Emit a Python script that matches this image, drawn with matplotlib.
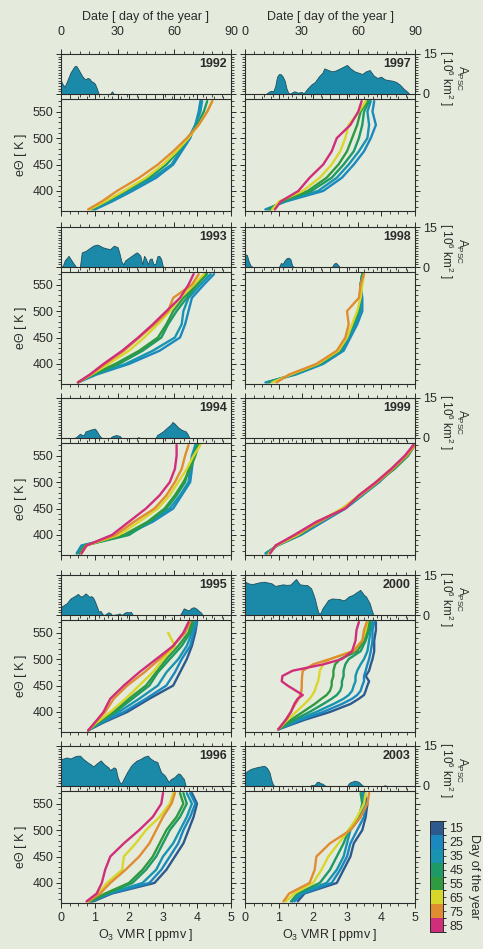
import numpy as np
import matplotlib
matplotlib.use('Agg')
import matplotlib.pyplot as plt
from matplotlib.colors import ListedColormap, BoundaryNorm
from matplotlib.ticker import MultipleLocator, FixedLocator
import matplotlib.colorbar as mcolorbar

plt.rcParams['font.family'] = ['Liberation Sans', 'DejaVu Sans']
plt.rcParams['font.size'] = 9
plt.rcParams['mathtext.default'] = 'regular'

BG = '#e5ebdc'
INK = '#2b2b2b'

# ---- colour scale (day of the year) ----
day_ticks = [15, 25, 35, 45, 55, 65, 75, 85]
day_colors = ['#2c5a8e', '#1b88bf', '#1894b0', '#1d9a66', '#2f9a40',
              '#d8d62a', '#e08c30', '#d02e7a']

# ---- PSC area (10^6 km^2) vs day ----
days_1992 = [0, 1, 2, 3, 5, 7, 8, 9, 11, 12, 13, 14, 15, 16, 17, 18, 19, 20, 26, 27, 28, 90]
apsc_1992 = [5.0, 3.5, 2.8, 4.5, 8.0, 10.3, 10.6, 9.5, 7.0, 6.0, 5.5, 6.0, 5.8, 4.8, 4.5, 3.8, 2.0, 0.0, 0.0, 1.0, 0.0, 0.0]

days_1997 = [0, 11, 13, 14, 15, 16, 17, 18, 19, 20, 21, 22, 23, 24, 26, 27, 28, 30, 31, 33, 35, 37, 39, 41,
             42, 44, 46, 48, 50, 52, 54, 56, 58, 60, 62, 64, 66, 68, 70, 72, 74, 76, 78, 80, 82, 84, 86, 87, 90]
apsc_1997 = [0, 0, 1.0, 1.2, 1.0, 3.0, 6.5, 7.5, 7.4, 6.5, 5.0, 2.0, 0.3, 0.2, 1.0, 0.8, 0.5, 0.8, 0.2, 2.0, 3.5, 4.5, 6.5, 8.0,
             9.6, 9.0, 8.5, 8.8, 9.5, 10.2, 10.9, 9.5, 8.5, 8.0, 7.5, 8.5, 9.0, 7.0, 6.0, 6.5, 5.5, 5.2, 5.0, 4.5, 3.5, 2.0, 0.8, 0.0, 0.0]

days_1993 = [0, 1, 2, 4, 6, 8, 10, 11, 13, 15, 17, 19, 20, 22, 24, 26, 28, 30, 31, 32, 33, 34, 36, 38, 40,
             41, 42, 43, 44, 45, 46, 47, 48, 49, 50, 51, 52, 53, 54, 90]
apsc_1993 = [0, 0.5, 2.5, 4.2, 2.0, 0, 0, 5.5, 6.0, 7.0, 8.0, 8.4, 8.2, 7.4, 7.0, 6.7, 8.0, 7.4, 5.0, 2.0, 1.0, 2.5, 3.5, 4.5, 5.5,
             5.0, 4.2, 1.0, 4.2, 3.0, 1.0, 3.0, 3.2, 1.0, 1.2, 4.0, 4.2, 3.0, 0, 0]

days_1998 = [0, 1, 2, 3, 4, 18, 19, 20, 21, 22, 23, 24, 25, 26, 46, 47, 48, 49, 50, 90]
apsc_1998 = [4.8, 4.5, 2.0, 0.5, 0, 0, 1.5, 1.2, 2.5, 3.3, 3.5, 3.0, 0.5, 0, 0, 1.2, 1.6, 1.0, 0, 0]

days_1994 = [0, 7, 8, 10, 11, 12, 13, 14, 16, 18, 19, 20, 21, 22, 26, 27, 29, 31, 32, 40, 41, 42,
             50, 51, 52, 54, 56, 58, 59, 60, 62, 63, 64, 66, 67, 68, 90]
apsc_1994 = [0, 0, 0.3, 1.6, 1.2, 1.0, 2.5, 2.7, 3.2, 3.5, 2.5, 1.3, 0.3, 0, 0, 0.6, 1.1, 0.8, 0, 0, 0.3, 0,
             0, 1.2, 1.6, 2.5, 3.8, 5.0, 6.0, 5.5, 4.0, 3.5, 3.0, 2.5, 1.5, 0, 0]

days_1999 = [0, 90]
apsc_1999 = [0, 0]

days_1995 = [0, 1, 3, 5, 7, 9, 10, 11, 12, 13, 14, 15, 16, 17, 18, 19, 20, 21, 22, 23, 25, 26, 27, 30, 31, 32,
             34, 35, 36, 37, 38, 63, 64, 65, 66, 67, 68, 69, 70, 71, 72, 73, 74, 75, 90]
apsc_1995 = [3.0, 3.5, 4.4, 6.2, 7.0, 7.9, 7.2, 6.9, 7.5, 8.1, 7.5, 6.8, 7.1, 6.5, 5.0, 3.1, 1.25, 1.5, 0.3, 0, 1.0, 0.8, 0, 0.3, 0.6, 0,
             1.0, 1.1, 1.0, 1.2, 0, 0, 1.2, 2.5, 2.2, 1.8, 1.9, 2.6, 2.9, 2.7, 2.2, 1.5, 1.0, 0, 0]

days_2000 = [0, 2, 4, 6, 8, 10, 12, 14, 16, 18, 20, 22, 24, 26, 27, 28, 29, 31, 33, 35, 36, 37, 38, 39, 40,
             41, 42, 44, 46, 48, 50, 52, 53, 55, 57, 59, 61, 62, 63, 64, 66, 67, 68, 90]
apsc_2000 = [12.5, 11.8, 11.6, 12.0, 12.3, 12.5, 12.2, 11.9, 10.9, 11.2, 11.5, 11.3, 11.4, 12.8, 13.5, 12.5, 11.5, 11.3, 11.2, 10.0,
             8.1, 6.0, 3.0, 0.6, 0.8, 2.5, 3.5, 5.6, 6.2, 6.1, 6.0, 5.5, 5.8, 7.0, 7.5, 8.5, 9.4, 8.5, 7.5, 7.0, 4.4, 2.0, 0, 0]

days_1996 = [0, 2, 3, 5, 7, 8, 10, 12, 14, 16, 17, 19, 21, 23, 25, 26, 28, 29, 30, 31, 32, 33, 35, 37, 38, 40,
             42, 44, 46, 47, 49, 51, 52, 53, 55, 57, 58, 60, 62, 63, 64, 65, 66, 90]
apsc_1996 = [10.0, 10.5, 10.7, 10.3, 11.0, 11.3, 11.4, 10.0, 8.9, 8.0, 7.3, 8.5, 9.6, 8.1, 7.0, 6.0, 7.0, 6.5, 3.3, 1.5, 0.9, 2.5,
             5.2, 7.5, 8.3, 9.5, 10.1, 11.0, 11.4, 10.5, 9.5, 9.0, 7.0, 5.2, 3.9, 1.5, 2.5, 3.3, 4.7, 4.5, 3.5, 2.7, 0, 0]

days_2003 = [0, 1, 3, 5, 6, 8, 10, 11, 12, 13, 14, 15, 16, 34, 35, 37, 38, 39, 40, 41, 42, 43,
             54, 55, 56, 57, 58, 59, 60, 61, 62, 63, 73, 74, 75, 90]
apsc_2003 = [4.6, 5.5, 6.4, 6.8, 7.0, 7.3, 7.6, 7.2, 6.4, 5.0, 2.1, 0.3, 0, 0, 0.3, 0.5, 1.5, 1.6, 1.0, 0.9, 0.3, 0,
             0, 1.0, 1.5, 1.7, 2.0, 1.8, 1.6, 1.0, 0.3, 0, 0, 0.3, 0, 0]

# ---- ozone profiles: O3 VMR (ppmv) at potential temperature levels (K) ----
theta_std = [365, 380, 400, 425, 450, 475, 500, 525, 550, 570]

prof_1992 = {
    25: [1.00, 1.50, 2.10, 2.80, 3.30, 3.55, 3.80, 3.95, 4.05, 4.10],
    35: [0.95, 1.45, 2.00, 2.70, 3.25, 3.50, 3.75, 3.95, 4.10, 4.15],
    45: [0.90, 1.35, 1.90, 2.60, 3.10, 3.45, 3.75, 4.00, 4.20, 4.30],
    65: [0.85, 1.30, 1.85, 2.50, 3.00, 3.40, 3.75, 4.05, 4.30, 4.45],
    75: [0.80, 1.20, 1.65, 2.30, 2.85, 3.30, 3.70, 4.05, 4.30, 4.45],
}
prof_1997 = {
    25: [0.60, 1.20, 2.30, 2.85, 3.20, 3.50, 3.70, 3.85, 3.75, 3.80],
    35: [0.65, 1.15, 2.15, 2.70, 3.05, 3.35, 3.60, 3.65, 3.60, 3.70],
    45: [0.70, 1.10, 1.95, 2.55, 2.90, 3.20, 3.35, 3.45, 3.50, 3.65],
    55: [0.75, 1.05, 1.85, 2.40, 2.75, 3.00, 3.15, 3.30, 3.40, 3.60],
    65: [0.80, 1.00, 1.70, 2.20, 2.55, 2.80, 2.95, 3.05, 3.35, 3.55],
    85: [0.88, 1.05, 1.57, 1.90, 2.30, 2.55, 2.70, 3.10, 3.33, 3.43],
}
prof_1993 = {
    25: [0.50, 1.05, 2.00, 2.90, 3.50, 3.65, 3.75, 3.85, 4.20, 4.50],
    35: [0.50, 1.00, 1.90, 2.70, 3.35, 3.55, 3.60, 3.75, 4.10, 4.40],
    45: [0.50, 0.95, 1.70, 2.40, 2.95, 3.15, 3.40, 3.70, 4.00, 4.30],
    55: [0.50, 0.92, 1.60, 2.30, 2.85, 3.10, 3.30, 3.60, 4.00, 4.25],
    65: [0.50, 0.90, 1.40, 2.00, 2.45, 2.85, 3.20, 3.50, 3.90, 4.20],
    75: [0.50, 0.88, 1.30, 1.85, 2.30, 2.75, 3.15, 3.30, 3.85, 4.05],
    85: [0.50, 0.85, 1.25, 1.80, 2.27, 2.70, 3.10, 3.50, 3.75, 3.90],
}
prof_1998 = {
    25: [0.60, 1.50, 2.30, 2.90, 3.10, 3.30, 3.45, 3.45, 3.40, 3.45],
    35: [0.65, 1.45, 2.25, 2.85, 3.05, 3.25, 3.40, 3.40, 3.40, 3.45],
    45: [0.70, 1.40, 2.20, 2.80, 3.00, 3.20, 3.35, 3.40, 3.40, 3.45],
    65: [0.80, 1.35, 2.15, 2.75, 3.00, 3.15, 3.30, 3.40, 3.45, 3.50],
    75: [0.93, 1.30, 2.10, 2.70, 2.95, 3.05, 3.00, 3.35, 3.40, 3.50],
}
prof_1994 = {
    25: [0.46, 0.60, 1.90, 2.70, 3.30, 3.55, 3.80, 3.85, 3.90, 3.95],
    35: [0.50, 0.65, 1.95, 2.65, 3.20, 3.50, 3.75, 3.80, 3.85, 3.95],
    45: [0.55, 0.70, 2.00, 2.60, 3.10, 3.40, 3.65, 3.75, 3.90, 4.00],
    55: [0.55, 0.70, 1.85, 2.55, 3.05, 3.35, 3.60, 3.80, 3.95, 4.05],
    65: [0.60, 0.75, 1.70, 2.30, 2.85, 3.20, 3.45, 3.70, 3.90, 4.10],
    75: [0.60, 0.75, 1.60, 2.15, 2.75, 3.10, 3.35, 3.55, 3.65, 3.75],
    85: [0.60, 0.75, 1.50, 2.00, 2.50, 2.90, 3.20, 3.35, 3.40, 3.40],
}
prof_1999 = {
    25: [0.60, 0.95, 1.65, 2.30, 2.95, 3.45, 3.95, 4.35, 4.75, 4.95],
    35: [0.62, 0.95, 1.60, 2.25, 2.95, 3.45, 3.90, 4.35, 4.75, 5.00],
    45: [0.65, 0.95, 1.60, 2.20, 2.90, 3.40, 3.90, 4.40, 4.80, 5.00],
    65: [0.70, 0.93, 1.55, 2.15, 2.85, 3.35, 3.85, 4.30, 4.75, 5.00],
    75: [0.72, 0.90, 1.50, 2.20, 2.90, 3.40, 3.90, 4.35, 4.75, 5.00],
    85: [0.74, 0.90, 1.45, 2.10, 2.95, 3.35, 3.85, 4.30, 4.70, 4.95],
}
prof_1995 = {
    15: [0.80, 1.25, 1.95, 2.60, 3.30, 3.50, 3.70, 3.85, 3.95, 4.00],
    25: [0.80, 1.20, 1.85, 2.50, 3.10, 3.35, 3.55, 3.80, 3.90, 4.00],
    35: [0.80, 1.15, 1.70, 2.30, 2.85, 3.10, 3.45, 3.70, 3.85, 3.95],
    45: [0.80, 1.10, 1.60, 2.10, 2.60, 2.85, 3.20, 3.55, 3.80, 3.90],
    55: [0.80, 1.10, 1.55, 2.00, 2.50, 2.80, 3.10, 3.45, 3.75, 3.85],
    65: [0.80, 1.05, 1.45, 1.90, 2.30, 2.70, 3.00, 3.35, 3.15, np.nan],
    75: [0.80, 1.00, 1.30, 1.55, 1.95, 2.45, 2.90, 3.30, 3.65, 3.80],
    85: [0.80, 1.00, 1.25, 1.45, 1.85, 2.30, 2.80, 3.30, 3.60, 3.75],
}
theta_2000 = [367, 385, 400, 415, 425, 432, 440, 450, 458, 468, 478, 490, 500, 515, 535, 555, 570]
prof_2000 = {
    15: [0.98, 1.75, 2.50, 3.10, 3.35, 3.50, 3.55, 3.60, 3.65, 3.55, 3.65, 3.70, 3.75, 3.80, 3.80, 3.85, 3.85],
    25: [0.98, 1.65, 2.30, 2.85, 3.15, 3.30, 3.40, 3.45, 3.50, 3.50, 3.55, 3.60, 3.65, 3.70, 3.75, 3.75, 3.80],
    35: [0.98, 1.55, 2.10, 2.60, 2.90, 3.05, 3.15, 3.20, 3.25, 3.25, 3.30, 3.40, 3.50, 3.60, 3.65, 3.70, 3.75],
    45: [0.98, 1.45, 1.90, 2.30, 2.55, 2.70, 2.80, 2.85, 2.85, 2.90, 2.90, 2.95, 3.05, 3.40, 3.55, 3.65, 3.70],
    55: [0.98, 1.35, 1.70, 2.05, 2.25, 2.40, 2.50, 2.55, 2.55, 2.60, 2.60, 2.65, 2.80, 3.30, 3.50, 3.60, 3.65],
    65: [0.98, 1.25, 1.50, 1.75, 1.90, 1.98, 2.05, 2.10, 2.15, 2.18, 2.20, 2.30, 2.50, 3.15, 3.45, 3.55, 3.60],
    75: [0.98, 1.20, 1.35, 1.48, 1.58, 1.62, 1.66, 1.67, 1.67, 1.68, 1.70, 2.00, 2.50, 3.20, 3.45, 3.50, 3.58],
    85: [0.98, 1.20, 1.35, 1.45, 1.55, 1.70, 1.50, 1.25, 1.08, 1.10, 1.40, 2.30, 2.85, 3.15, 3.25, 3.28, 3.35],
}
prof_1996 = {
    15: [0.95, 1.50, 2.75, 3.10, 3.35, 3.60, 3.75, 3.90, 4.00, 3.85],
    25: [0.90, 1.45, 2.60, 2.95, 3.20, 3.45, 3.60, 3.80, 3.95, 3.80],
    35: [0.90, 1.40, 2.40, 2.80, 3.00, 3.30, 3.50, 3.70, 3.85, 3.70],
    45: [0.85, 1.35, 2.10, 2.50, 2.80, 3.00, 3.20, 3.50, 3.70, 3.60],
    55: [0.85, 1.30, 2.00, 2.40, 2.70, 2.90, 3.10, 3.40, 3.60, 3.50],
    65: [0.80, 1.10, 1.35, 1.80, 1.85, 2.20, 2.50, 2.90, 3.20, 3.30],
    75: [0.80, 1.15, 1.45, 1.90, 2.30, 2.60, 2.80, 3.00, 3.25, 3.35],
    85: [0.75, 1.05, 1.20, 1.30, 1.45, 1.85, 2.30, 2.70, 2.95, 3.00],
}
prof_2003 = {
    15: [1.55, 1.75, 2.70, 2.90, 3.10, 3.20, 3.45, 3.55, 3.60, 3.50],
    25: [1.45, 1.70, 2.55, 2.80, 3.00, 3.10, 3.30, 3.50, 3.55, 3.50],
    35: [1.40, 1.60, 2.40, 2.70, 2.90, 3.00, 3.10, 3.40, 3.50, 3.45],
    45: [1.35, 1.55, 2.20, 2.50, 2.70, 2.90, 3.05, 3.35, 3.45, 3.40],
    65: [1.20, 1.45, 2.00, 2.25, 2.45, 2.75, 3.05, 3.30, 3.50, 3.55],
    75: [1.13, 1.30, 1.90, 2.05, 2.10, 2.50, 3.10, 3.40, 3.60, 3.65],
}

left_years = [1992, 1993, 1994, 1995, 1996]
right_years = [1997, 1998, 1999, 2000, 2003]
apsc = {1992: (days_1992, apsc_1992), 1993: (days_1993, apsc_1993), 1994: (days_1994, apsc_1994),
        1995: (days_1995, apsc_1995), 1996: (days_1996, apsc_1996), 1997: (days_1997, apsc_1997),
        1998: (days_1998, apsc_1998), 1999: (days_1999, apsc_1999), 2000: (days_2000, apsc_2000),
        2003: (days_2003, apsc_2003)}
profiles = {1992: prof_1992, 1993: prof_1993, 1994: prof_1994, 1995: prof_1995, 1996: prof_1996,
            1997: prof_1997, 1998: prof_1998, 1999: prof_1999, 2000: prof_2000, 2003: prof_2003}
thetas = {y: theta_std for y in profiles}
thetas[2000] = theta_2000

# ---- layout in pixels ----
W, H = 483, 949
fig = plt.figure(figsize=(W / 100, H / 100), dpi=100, facecolor=BG)

col_x = [61, 245]
ax_w = 170
area_top = [54, 227, 398, 575, 746]
area_h = 40
line_gap = 45
line_h = 112

color_of = dict(zip(day_ticks, day_colors))


def px_axes(x, top, w, h):
    return fig.add_axes([x / W, 1 - (top + h) / H, w / W, h / H])


def style(ax):
    ax.set_facecolor('none')
    for s in ax.spines.values():
        s.set_color(INK)
        s.set_linewidth(0.8)
    ax.tick_params(which='both', direction='out', colors=INK, top=True, right=True,
                   labelbottom=False, labelleft=False, labelsize=9)
    ax.tick_params(which='major', length=3.5, width=0.7)
    ax.tick_params(which='minor', length=2, width=0.6)


for col, years in enumerate([left_years, right_years]):
    for row, yr in enumerate(years):
        # PSC area panel
        ax = px_axes(col_x[col], area_top[row], ax_w, area_h)
        style(ax)
        d, a = apsc[yr]
        ax.fill_between(d, a, 0, color='#1a8aa8', edgecolor='#1d4f60', linewidth=0.6)
        ax.set_xlim(0, 90)
        ax.set_ylim(0, 15)
        ax.xaxis.set_major_locator(MultipleLocator(30))
        ax.xaxis.set_minor_locator(MultipleLocator(5))
        ax.yaxis.set_major_locator(FixedLocator([0, 15]))
        ax.yaxis.set_minor_locator(MultipleLocator(1))
        ax.text(0.975, 0.9, str(yr), transform=ax.transAxes, ha='right', va='top',
                fontweight='bold', fontsize=9, color=INK)
        if row == 0:
            ax.tick_params(axis='x', labeltop=True, pad=8)
            ax.set_xlabel('Date [ day of the year ]', fontsize=9, color=INK, labelpad=4)
            ax.xaxis.set_label_position('top')
        if col == 1:
            ax.tick_params(axis='y', labelright=True, pad=2)
            fig.text(453 / W, 1 - (area_top[row] + 24) / H,
                     'A$_{PSC}$\n[ 10$^6$ km$^2$ ]', rotation=270, ha='center', va='center',
                     multialignment='center', fontsize=8.5, color=INK, linespacing=0.95)

        # ozone profile panel
        ax = px_axes(col_x[col], area_top[row] + line_gap, ax_w, line_h)
        style(ax)
        th = thetas[yr]
        for day, vals in profiles[yr].items():
            ax.plot(vals, th, color=color_of[day], linewidth=1.7, solid_capstyle='round')
        ax.set_xlim(0, 5)
        ax.set_ylim(362, 574)
        ax.xaxis.set_major_locator(MultipleLocator(1))
        ax.xaxis.set_minor_locator(MultipleLocator(0.25))
        ax.yaxis.set_major_locator(MultipleLocator(50))
        ax.yaxis.set_minor_locator(MultipleLocator(10))
        if col == 0:
            ax.tick_params(axis='y', labelleft=True, pad=2)
            ax.set_ylabel('eΘ [ K ]', fontsize=9, color=INK, labelpad=4)
        if row == 4:
            ax.tick_params(axis='x', labelbottom=True, pad=3)
            ax.set_xlabel('O$_3$ VMR [ ppmv ]', fontsize=9, color=INK, labelpad=2)

# ---- colour bar ----
cax = px_axes(430, 821, 13, 111)
cmap = ListedColormap(day_colors)
norm = BoundaryNorm([10, 20, 30, 40, 50, 60, 70, 80, 90], cmap.N)
cb = mcolorbar.ColorbarBase(cax, cmap=cmap, norm=norm, orientation='vertical', ticks=day_ticks)
cax.invert_yaxis()
cb.outline.set_edgecolor(INK)
cb.outline.set_linewidth(0.7)
cax.tick_params(length=2.5, width=0.6, colors=INK, labelsize=9, pad=2)
cb.set_label('Day of the year', rotation=270, fontsize=9, color=INK, labelpad=12)

fig.savefig('out.png', dpi=100, facecolor=BG)
